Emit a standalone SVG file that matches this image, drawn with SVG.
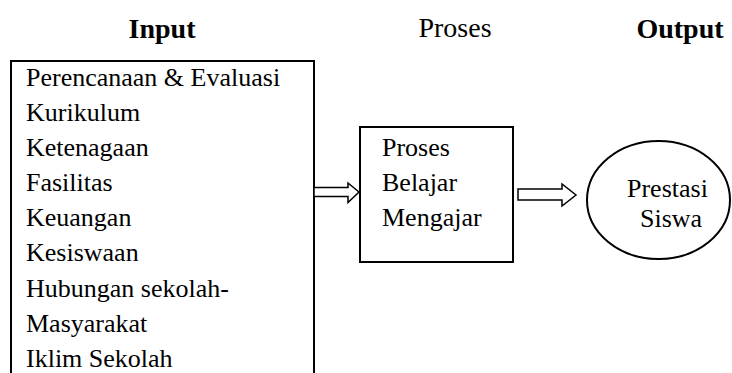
<svg xmlns="http://www.w3.org/2000/svg" width="732" height="373" viewBox="0 0 732 373">
<style>
.t{font-family:"Liberation Serif","Times New Roman",serif;font-size:26px;fill:#000}
.h{font-family:"Liberation Serif","Times New Roman",serif;font-size:28px;fill:#000}
.b{font-weight:bold}
.s{fill:#fff;stroke:#000;stroke-width:2}
.a{fill:#fff;stroke:#000;stroke-width:1.5;stroke-linejoin:miter}
</style>
<rect width="732" height="373" fill="#fff"/>
<g id="headers">
<text class="h b" x="162" y="38" text-anchor="middle">Input</text>
<text class="h" x="455" y="37" text-anchor="middle">Proses</text>
<text class="h b" x="680" y="38" text-anchor="middle">Output</text>
</g>
<g id="input">
<rect class="s" x="11" y="61" width="303" height="330"/>
<text class="t" x="26" y="86">Perencanaan &amp; Evaluasi</text>
<text class="t" x="26" y="121">Kurikulum</text>
<text class="t" x="26" y="156">Ketenagaan</text>
<text class="t" x="26" y="191">Fasilitas</text>
<text class="t" x="26" y="226">Keuangan</text>
<text class="t" x="26" y="261">Kesiswaan</text>
<text class="t" x="26" y="297">Hubungan sekolah-</text>
<text class="t" x="26" y="332">Masyarakat</text>
<text class="t" x="26" y="367">Iklim Sekolah</text>
</g>
<g id="proses">
<rect class="s" x="360" y="127" width="153" height="135"/>
<text class="t" x="382" y="156">Proses</text>
<text class="t" x="382" y="191">Belajar</text>
<text class="t" x="382" y="226">Mengajar</text>
</g>
<g id="output">
<ellipse class="s" cx="658.5" cy="200" rx="71.5" ry="59"/>
<text class="t" x="627" y="197">Prestasi</text>
<text class="t" x="640" y="227">Siswa</text>
</g>
<g id="connectors">
<polygon class="a" points="314,187.5 348,187.5 348,183 359,192 348,202.5 348,196.5 314,196.5"/>
<polygon class="a" points="518,189 562,189 562,184 576,195 562,206 562,200 518,200"/>
</g>
</svg>
